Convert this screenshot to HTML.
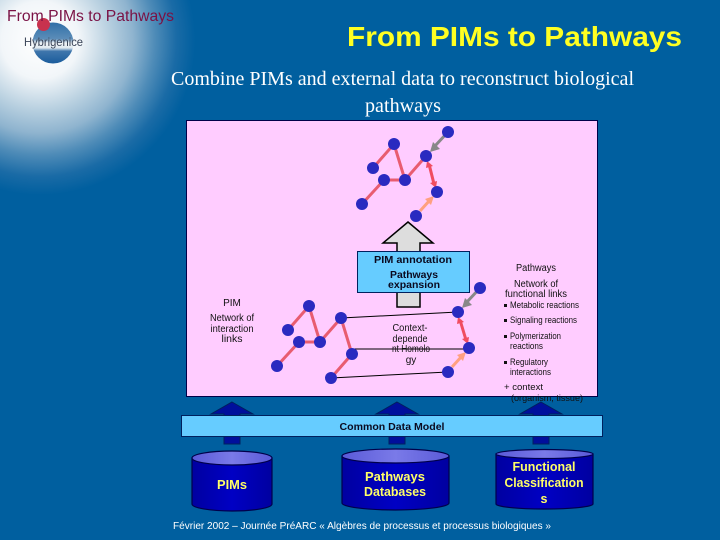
<!DOCTYPE html>
<html><head><meta charset="utf-8"><style>
html,body{margin:0;padding:0;width:720px;height:540px;overflow:hidden;background:#005f9f}
svg{display:block}
text{font-family:"Liberation Sans",sans-serif}
.s{font-size:10px;fill:#111;text-anchor:middle}
.l{font-size:9.5px;fill:#111}
.b{font-size:10px;font-weight:bold;fill:#0a0a20;text-anchor:middle}
.y{font-size:12.5px;font-weight:bold;fill:#ffff66;text-anchor:middle}
</style></head><body>
<svg width="720" height="540" viewBox="0 0 720 540" xmlns="http://www.w3.org/2000/svg">
<defs>
<radialGradient id="bg" gradientUnits="userSpaceOnUse" cx="40" cy="40" r="155">
<stop offset="0" stop-color="#ffffff"/><stop offset=".25" stop-color="#f2f6f9"/><stop offset=".45" stop-color="#b8d0e0"/><stop offset=".6" stop-color="#8fb4cf"/><stop offset=".74" stop-color="#4f8cb8"/><stop offset=".88" stop-color="#1a6ba6"/><stop offset="1" stop-color="#005f9f"/>
</radialGradient>
<linearGradient id="ball" x1="0" y1="0" x2="0" y2="1"><stop offset="0" stop-color="#2f6fa8"/><stop offset=".4" stop-color="#5c8db8"/><stop offset=".5" stop-color="#f0f4f7"/><stop offset=".62" stop-color="#dfe8ef"/><stop offset=".7" stop-color="#3f76ac"/><stop offset="1" stop-color="#1a5c9c"/></linearGradient>
<linearGradient id="cyl" x1="0" y1="0" x2="1" y2="0"><stop offset="0" stop-color="#0000a0"/><stop offset=".5" stop-color="#0000c4"/><stop offset="1" stop-color="#0000a0"/></linearGradient>
<linearGradient id="cap" x1="0" y1="0" x2="1" y2="0"><stop offset="0" stop-color="#5a5ad8"/><stop offset=".5" stop-color="#7a7ae8"/><stop offset="1" stop-color="#5a5ad8"/></linearGradient>
<g id="dbarrow"><path d="M0 0L21 12H8V42H-8V12H-21Z" fill="#000f9c" stroke="#00205e" stroke-width="1"/></g>
</defs>
<rect width="720" height="540" fill="#005f9f"/>
<rect width="200" height="200" fill="url(#bg)"/>
<!-- logo -->
<circle cx="53" cy="43" r="20.500" fill="url(#ball)"/>
<circle cx="43.500" cy="24.500" r="6.500" fill="#c8324e"/>
<text x="24" y="46" font-size="12" fill="#3a4458" textLength="59" lengthAdjust="spacingAndGlyphs">Hybrigenice</text>
<text x="7" y="21" font-size="16" fill="#7a1245" textLength="167" lengthAdjust="spacingAndGlyphs">From PIMs to Pathways</text>
<text x="347" y="46" font-size="28" font-weight="bold" fill="#ffff22" textLength="335" lengthAdjust="spacingAndGlyphs">From PIMs to Pathways</text>
<text x="171" y="85" font-size="20" fill="#fff" style="font-family:'Liberation Serif',serif" textLength="463" lengthAdjust="spacingAndGlyphs">Combine PIMs and external data to reconstruct biological</text>
<text x="365" y="112" font-size="20" fill="#fff" style="font-family:'Liberation Serif',serif" textLength="76" lengthAdjust="spacingAndGlyphs">pathways</text>
<!-- db arrows -->
<use href="#dbarrow" x="232" y="402"/>
<use href="#dbarrow" x="397" y="402"/>
<use href="#dbarrow" x="541" y="402"/>
<!-- panel -->
<rect x="186.500" y="120.500" width="411" height="276" fill="#ffccff" stroke="#00004a" stroke-width="1"/>
<!-- big arrow -->
<path d="M408 222L433 243H420V307H397V243H383Z" fill="#dddddd" stroke="#000" stroke-width="1.500"/>
<rect x="357.500" y="251.500" width="112" height="41" fill="#66ccff" stroke="#00205e"/>
<text class="b" x="413" y="263" textLength="78" lengthAdjust="spacingAndGlyphs">PIM annotation</text>
<text class="b" x="414" y="278" textLength="48" lengthAdjust="spacingAndGlyphs">Pathways</text>
<text class="b" x="414" y="288" textLength="52" lengthAdjust="spacingAndGlyphs">expansion</text>
<!-- top network -->
<g stroke="#e85c70" stroke-width="3" fill="none">
<path d="M373 168L394 144L405 180L426 156"/>
<path d="M362 204L384 180H405"/>
</g>
<path d="M448 132L434 147" stroke="#888" stroke-width="3"/>
<path d="M430 152L433 142L440 149Z" fill="#888"/>
<path d="M429 164L434 184" stroke="#f04c60" stroke-width="3"/>
<path d="M427 161L433 166L426 168ZM436 188L430 183L437 181Z" fill="#f04c60"/>
<path d="M420 211L430 200" stroke="#ffa080" stroke-width="3"/>
<path d="M434 196L431 205L425 199Z" fill="#ffa080"/>
<g fill="#2a2ac0">
<circle cx="448" cy="132" r="6"/><circle cx="394" cy="144" r="6"/><circle cx="373" cy="168" r="6"/><circle cx="384" cy="180" r="6"/><circle cx="405" cy="180" r="6"/><circle cx="426" cy="156" r="6"/><circle cx="437" cy="192" r="6"/><circle cx="362" cy="204" r="6"/><circle cx="416" cy="216" r="6"/>
</g>
<!-- bottom network -->
<g stroke="#000" stroke-width="1" fill="none">
<path d="M341 318L458 312"/><path d="M352 349H469"/><path d="M331 378L448 372"/>
</g>
<g stroke="#e85c70" stroke-width="3" fill="none">
<path d="M288 330L309 306L320 342L341 318L352 354L331 378"/>
<path d="M277 366L299 342H320"/>
</g>
<path d="M480 288L466 303" stroke="#888" stroke-width="3"/>
<path d="M462 308L465 298L472 305Z" fill="#888"/>
<path d="M460 320L466 340" stroke="#f04c60" stroke-width="3"/>
<path d="M458 317L464 322L457 324ZM468 344L462 339L469 337Z" fill="#f04c60"/>
<path d="M452 367L462 356" stroke="#ffa080" stroke-width="3"/>
<path d="M466 352L463 361L457 355Z" fill="#ffa080"/>
<g fill="#2a2ac0">
<circle cx="309" cy="306" r="6"/><circle cx="288" cy="330" r="6"/><circle cx="299" cy="342" r="6"/><circle cx="320" cy="342" r="6"/><circle cx="341" cy="318" r="6"/><circle cx="352" cy="354" r="6"/><circle cx="277" cy="366" r="6"/><circle cx="331" cy="378" r="6"/><circle cx="480" cy="288" r="6"/><circle cx="458" cy="312" r="6"/><circle cx="469" cy="348" r="6"/><circle cx="448" cy="372" r="6"/>
</g>
<!-- labels -->
<text class="s" x="232" y="306">PIM</text>
<text class="s" x="232" y="321" textLength="44" lengthAdjust="spacingAndGlyphs">Network of</text>
<text class="s" x="232" y="332" textLength="43" lengthAdjust="spacingAndGlyphs">interaction</text>
<text class="s" x="232" y="342" textLength="21" lengthAdjust="spacingAndGlyphs">links</text>
<text class="s" x="410" y="331" textLength="35" lengthAdjust="spacingAndGlyphs">Context-</text>
<text class="s" x="410" y="342" textLength="35" lengthAdjust="spacingAndGlyphs">depende</text>
<text class="s" x="411" y="352" textLength="38" lengthAdjust="spacingAndGlyphs">nt Homolo</text>
<text class="s" x="411" y="363">gy</text>
<text class="s" x="536" y="271" textLength="40" lengthAdjust="spacingAndGlyphs">Pathways</text>
<text class="s" x="536" y="287" textLength="44" lengthAdjust="spacingAndGlyphs">Network of</text>
<text class="s" x="536" y="297" textLength="62" lengthAdjust="spacingAndGlyphs">functional links</text>
<g fill="#111"><rect x="504" y="304" width="3" height="3"/><rect x="504" y="319" width="3" height="3"/><rect x="504" y="335" width="3" height="3"/><rect x="504" y="361" width="3" height="3"/></g>
<text class="l" x="510" y="308" textLength="69" lengthAdjust="spacingAndGlyphs">Metabolic reactions</text>
<text class="l" x="510" y="323" textLength="67" lengthAdjust="spacingAndGlyphs">Signaling reactions</text>
<text class="l" x="510" y="339" textLength="51" lengthAdjust="spacingAndGlyphs">Polymerization</text>
<text class="l" x="510" y="349" textLength="33" lengthAdjust="spacingAndGlyphs">reactions</text>
<text class="l" x="510" y="365" textLength="38" lengthAdjust="spacingAndGlyphs">Regulatory</text>
<text class="l" x="510" y="375" textLength="41" lengthAdjust="spacingAndGlyphs">interactions</text>
<text class="l" x="504" y="390" textLength="39" lengthAdjust="spacingAndGlyphs">+ context</text>
<text class="l" x="511" y="401" textLength="72" lengthAdjust="spacingAndGlyphs">(organism, tissue)</text>
<!-- common data model -->
<rect x="181.500" y="415.500" width="421" height="21" fill="#66ccff" stroke="#00205e"/>
<text class="b" x="392" y="430" textLength="105" lengthAdjust="spacingAndGlyphs">Common Data Model</text>
<!-- cylinders -->
<g stroke="#00004a" stroke-width="1.200">
<path d="M192 458V504A40 7 0 0 0 272 504V458Z" fill="url(#cyl)"/>
<ellipse cx="232" cy="458" rx="40" ry="7" fill="url(#cap)"/>
<path d="M342 456V503A53.500 7 0 0 0 449 503V456Z" fill="url(#cyl)"/>
<ellipse cx="395.500" cy="456" rx="53.500" ry="7" fill="url(#cap)"/>
<path d="M496 454V504A48.500 5 0 0 0 593 504V454Z" fill="url(#cyl)"/>
<ellipse cx="544.500" cy="454" rx="48.500" ry="4.500" fill="url(#cap)"/>
</g>
<text class="y" x="232" y="489" textLength="30" lengthAdjust="spacingAndGlyphs">PIMs</text>
<text class="y" x="395" y="481" textLength="60" lengthAdjust="spacingAndGlyphs">Pathways</text>
<text class="y" x="395" y="496" textLength="62" lengthAdjust="spacingAndGlyphs">Databases</text>
<text class="y" x="544" y="471" textLength="63" lengthAdjust="spacingAndGlyphs">Functional</text>
<text class="y" x="544" y="487" textLength="79" lengthAdjust="spacingAndGlyphs">Classification</text>
<text class="y" x="544" y="503">s</text>
<text x="173" y="529" font-size="10" fill="#fff" textLength="378" lengthAdjust="spacingAndGlyphs">Février 2002 – Journée PréARC « Algèbres de processus et processus biologiques »</text>
</svg>
</body></html>
